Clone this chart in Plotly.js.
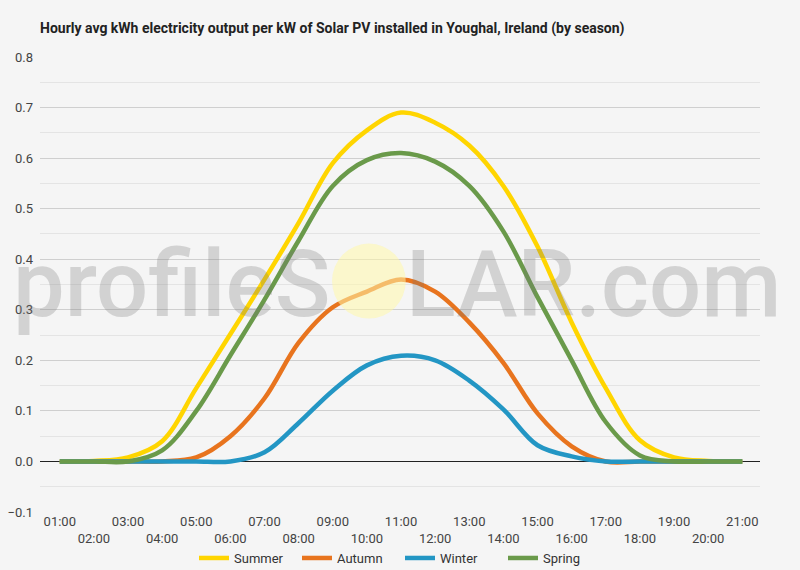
<!DOCTYPE html>
<html>
<head>
<meta charset="utf-8">
<script src="https://cdn.plot.ly/plotly-3.0.1.min.js"></script>
<style>
  html, body { margin: 0; padding: 0; background: #f5f5f5; }
  #chart { width: 800px; height: 570px; }
</style>
</head>
<body>
<div id="chart"></div>
<script>
const hours = ["01:00", "02:00", "03:00", "04:00", "05:00", "06:00", "07:00",
  "08:00", "09:00", "10:00", "11:00", "12:00", "13:00", "14:00", "15:00",
  "16:00", "17:00", "18:00", "19:00", "20:00", "21:00"];

const summer = [0, 0.001, 0.008, 0.04, 0.145, 0.252, 0.36, 0.472, 0.59, 0.655, 0.69,
  0.67, 0.625, 0.545, 0.425, 0.275, 0.145, 0.042, 0.008, 0.001, 0];
const autumn = [0, 0, 0, 0, 0.008, 0.05, 0.125, 0.235, 0.305, 0.336, 0.36,
  0.336, 0.275, 0.195, 0.095, 0.03, 0, 0, 0, 0, 0];
const winter = [0, 0, 0, 0, 0, 0, 0.018, 0.076, 0.14, 0.19, 0.209,
  0.2, 0.16, 0.103, 0.032, 0.01, 0, 0, 0, 0, 0];
const spring = [0, 0, 0, 0.022, 0.1, 0.21, 0.32, 0.437, 0.545, 0.596, 0.61,
  0.593, 0.545, 0.455, 0.325, 0.2, 0.078, 0.012, 0, 0, 0];

const seasons = ["Summer", "Autumn", "Winter", "Spring"];
const colors = ["#FFD500", "#E8741E", "#2396C4", "#6A9A4A"];

const chartDiv = document.getElementById("chart");

// odd hours on the first row, even hours pushed to a second row
const tickText = hours.map((h, i) => (i % 2 === 1 ? "\u00a0<br>" + h : h));

let data = [summer, autumn, winter, spring].map((vals, i) => ({
  x: hours,
  y: vals,
  name: seasons[i],
  type: "scatter",
  mode: "lines",
  line: { color: colors[i], width: 4.5, shape: "spline", smoothing: 1 },
  hoverinfo: "x+y+name",
}));

var watermarkFont = { family: "Roboto, sans-serif", size: 92, weight: 500, color: "rgba(120,120,120,0.27)" };

var layout = {
  width: 800,
  height: 570,
  paper_bgcolor: "#f5f5f5",
  plot_bgcolor: "#f5f5f5",
  margin: { l: 40, r: 40, t: 57, b: 58, autoexpand: false },
  font: { family: "Roboto, sans-serif", size: 13, color: "#444" },
  title: {
    text: "<b>Hourly avg kWh electricity output per kW of Solar PV installed in Youghal, Ireland (by season)</b>",
    font: { family: "Roboto, sans-serif", size: 14, color: "#222" },
    xref: "container",
    x: 0.05,
    xanchor: "left",
    yref: "container",
    y: 0.951,
    yanchor: "middle",
  },
  xaxis: {
    type: "category",
    range: [-0.58, 20.52],
    tickvals: hours,
    ticktext: tickText,
    tickangle: 0,
    ticks: "",
    showgrid: false,
    zeroline: false,
    showline: false,
    automargin: false,
    tickfont: { size: 13, color: "#444" },
    fixedrange: true,
  },
  yaxis: {
    range: [-0.1, 0.8],
    dtick: 0.1,
    tickformat: ".1f",
    ticks: "",
    showgrid: true,
    gridcolor: "#cfcfcf",
    gridwidth: 1,
    minor: { dtick: 0.05, showgrid: true, gridcolor: "#e4e4e4", gridwidth: 1 },
    zeroline: true,
    zerolinecolor: "#222",
    zerolinewidth: 1,
    ticklabelstandoff: 6,
    automargin: false,
    tickfont: { size: 13, color: "#444" },
    fixedrange: true,
  },
  showlegend: true,
  legend: {
    orientation: "h",
    xref: "container",
    yref: "container",
    x: 0.5,
    xanchor: "center",
    y: 0.021,
    yanchor: "middle",
    font: { size: 13, color: "#333" },
    bgcolor: "rgba(0,0,0,0)",
    itemwidth: 30,
    entrywidth: 58,
    tracegroupgap: 0,
  },
  shapes: [
    {
      type: "circle",
      xref: "paper",
      yref: "paper",
      x0: 0.4056,
      x1: 0.508,
      y0: 0.425,
      y1: 0.59,
      fillcolor: "rgba(255,248,170,0.55)",
      line: { width: 0 },
      layer: "above",
    },
  ],
  annotations: [
    {
      text: "profileS",
      xref: "paper",
      yref: "paper",
      x: 0.406,
      y: 0.5,
      xanchor: "right",
      yanchor: "middle",
      showarrow: false,
      font: watermarkFont,
    },
    {
      text: "LAR.com",
      xref: "paper",
      yref: "paper",
      x: 0.506,
      y: 0.5,
      xanchor: "left",
      yanchor: "middle",
      showarrow: false,
      font: watermarkFont,
    },
  ],
};

Plotly.newPlot(chartDiv, data, layout, { displayModeBar: false, staticPlot: true });
</script>
</body>
</html>
